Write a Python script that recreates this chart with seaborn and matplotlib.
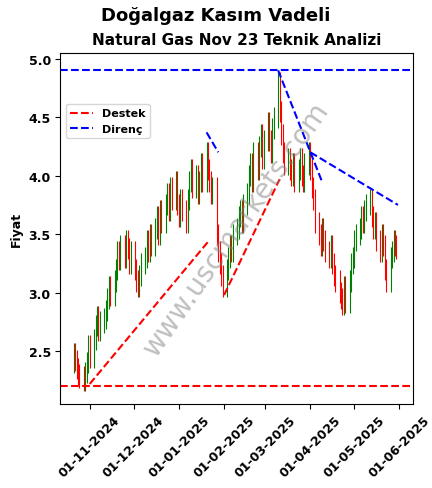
import pandas as pd
import numpy as np
import seaborn as sns
import matplotlib.pyplot as plt
import matplotlib.dates as mdates

# daily closes (business days from 21-10-2024)
closes = [2.48, 2.42, 2.35, 2.30, 2.28, 2.25, 2.32, 2.40, 2.55, 2.45,
          2.60, 2.72, 2.80, 2.68, 2.75, 2.78, 2.85, 2.95, 3.05, 2.98,
          3.10, 3.20, 3.35, 3.28, 3.40, 3.30, 3.45, 3.38, 3.25, 3.35,
          3.20, 3.10, 3.05, 3.15, 3.25, 3.30, 3.45, 3.35, 3.50, 3.40,
          3.55, 3.65, 3.50, 3.70, 3.60, 3.75, 3.85, 3.70, 3.90, 3.80,
          3.95, 3.75, 3.65, 3.80, 3.70, 3.60, 3.80, 3.95, 4.05, 3.90,
          4.00, 3.85, 3.95, 4.10, 3.95, 4.20, 4.05, 3.95, 3.85, 3.90,
          3.50, 3.35, 3.25, 3.15, 3.05, 3.20, 3.30, 3.40, 3.35, 3.50,
          3.55, 3.65, 3.70, 3.60, 3.75, 3.85, 4.00, 4.10, 3.95, 4.20,
          4.05, 4.25, 4.35, 4.15, 4.30, 4.45, 4.30, 4.20, 4.40, 4.50,
          4.80, 4.55, 4.35, 4.20, 4.10, 4.15, 4.05, 4.00, 4.10, 3.95,
          4.05, 4.15, 4.00, 3.95, 4.10, 4.20, 4.05, 3.90, 3.80, 3.60,
          3.50, 3.40, 3.55, 3.45, 3.35, 3.30, 3.40, 3.25, 3.15, 3.10,
          3.00, 2.95, 2.90, 3.05, 2.92, 3.10, 3.25, 3.30, 3.45, 3.50,
          3.55, 3.65, 3.60, 3.70, 3.75, 3.80, 3.65, 3.55, 3.60, 3.45,
          3.35, 3.50, 3.40, 3.20, 3.10, 3.30, 3.35, 3.45, 3.40, 3.38]
open_first = 2.40
wick = 0.09

dates = pd.bdate_range('2024-10-21', periods=len(closes))
df = pd.DataFrame({'date': dates, 'close': closes})
df['open'] = [open_first] + closes[:-1]
df['high'] = df[['open', 'close']].max(axis=1) + wick
df['low'] = df[['open', 'close']].min(axis=1) - wick

support_level = 2.2
resistance_level = 4.9
support_lines = [(('2024-11-01', 2.22), ('2025-01-22', 3.45)),
                 (('2025-02-01', 2.98), ('2025-03-11', 3.97))]
resistance_lines = [(('2025-01-20', 4.37), ('2025-01-28', 4.20)),
                    (('2025-03-10', 4.90), ('2025-04-09', 3.95)),
                    (('2025-04-01', 4.20), ('2025-05-31', 3.75))]

sns.set_style('ticks')
plt.rcParams['font.weight'] = 'bold'
plt.rcParams['axes.labelweight'] = 'bold'
plt.rcParams['text.color'] = 'black'
plt.rcParams['xtick.color'] = 'black'
plt.rcParams['ytick.color'] = 'black'
plt.rcParams['axes.labelcolor'] = 'black'
plt.rcParams['axes.edgecolor'] = 'black'
fig, ax = plt.subplots(figsize=(4.32, 4.89), dpi=100)

up = df['close'] >= df['open']
for mask, color in [(up, 'green'), (~up, 'red')]:
    d = df[mask]
    ax.vlines(d['date'], d['low'], d['high'], color=color, linewidth=0.8)
    ax.bar(d['date'], (d['close'] - d['open']).abs(), bottom=d[['open', 'close']].min(axis=1),
           width=0.8, color=color)

ax.axhline(support_level, color='red', linestyle='--', linewidth=1.5, label='Destek')
ax.axhline(resistance_level, color='blue', linestyle='--', linewidth=1.5, label='Direnç')
for (d1, y1), (d2, y2) in support_lines:
    ax.plot(pd.to_datetime([d1, d2]), [y1, y2], 'r--', linewidth=1.5)
for (d1, y1), (d2, y2) in resistance_lines:
    ax.plot(pd.to_datetime([d1, d2]), [y1, y2], 'b--', linewidth=1.5)

ax.set_ylim(2.05, 5.05)
ax.set_xlim(pd.Timestamp('2024-10-12'), pd.Timestamp('2025-06-10'))
ax.xaxis.set_major_locator(mdates.MonthLocator())
ax.xaxis.set_major_formatter(mdates.DateFormatter('%d-%m-%Y'))
ax.tick_params(labelsize=9)
plt.setp(ax.get_xticklabels(), rotation=45)
ax.set_ylabel('Fiyat', fontsize=9)
ax.set_title('Natural Gas Nov 23 Teknik Analizi', fontsize=11, fontweight='bold')
fig.suptitle('Doğalgaz Kasım Vadeli', fontsize=13, fontweight='bold', y=0.985)
ax.legend(loc='upper left', bbox_to_anchor=(0.0, 0.87), fontsize=8, frameon=True)
ax.text(0.5, 0.5, 'www.uscmarkets.com', transform=ax.transAxes, fontsize=20,
        color='gray', alpha=0.5, rotation=55, ha='center', va='center', fontweight='normal')
fig.subplots_adjust(left=0.14, right=0.955, top=0.89, bottom=0.172)
fig.savefig('out.png')
